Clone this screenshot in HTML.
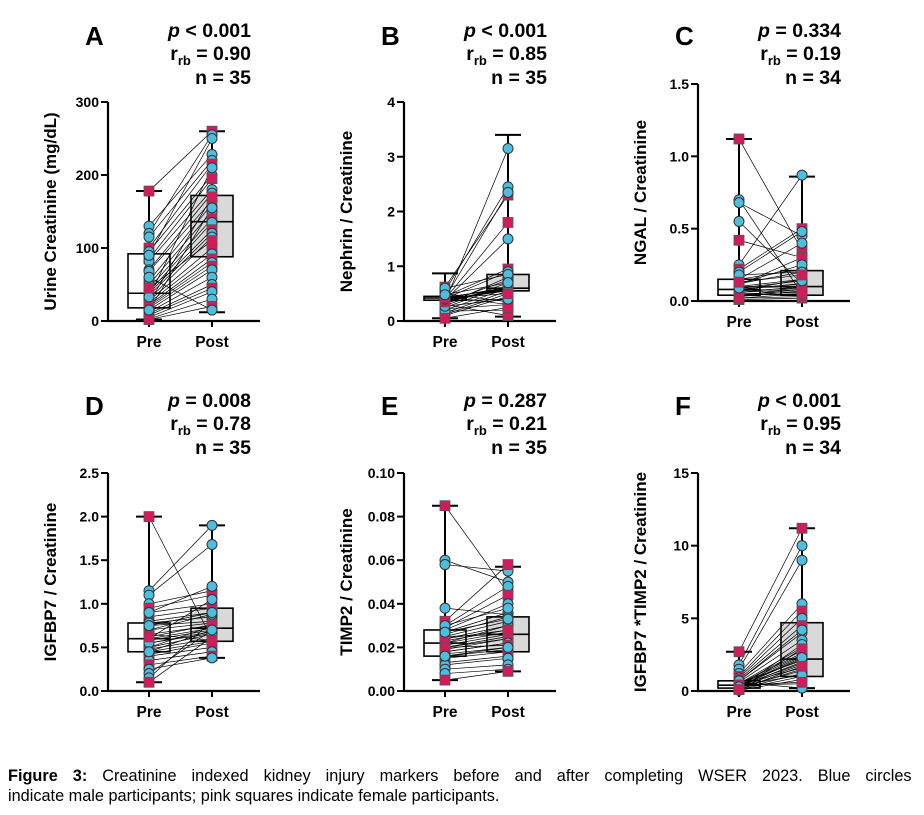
<!DOCTYPE html>
<html><head><meta charset="utf-8"><style>
body{margin:0;background:#fff;width:924px;height:810px;overflow:hidden}
svg text{font-family:"Liberation Sans",Arial,sans-serif}
</style></head><body>
<svg id="fig" width="924" height="810" xmlns="http://www.w3.org/2000/svg">
<text x="8" y="781" font-size="16.3" word-spacing="10.5"><tspan font-weight="bold">Figure 3:</tspan> Creatinine indexed kidney injury markers before and after completing WSER 2023. Blue circles</text>
<text x="8" y="801" font-size="16.3">indicate male participants; pink squares indicate female participants.</text>
</svg>
<script>
const panelLetters=['A','B','C','D','E','F'];
const pLabels=['< 0.001','< 0.001','= 0.334','= 0.008','= 0.287','< 0.001'];
const rLabels=['0.90','0.85','0.19','0.78','0.21','0.95'];
const nLabels=['35','35','34','35','35','34'];
const yTitles=['Urine Creatinine (mg/dL)','Nephrin / Creatinine','NGAL / Creatinine','IGFBP7 / Creatinine','TIMP2 / Creatinine','IGFBP7 *TIMP2 / Creatinine'];
const yMax=[300,4,1.5,2.5,0.10,15];
const tickVals=[[0,100,200,300],[0,1,2,3,4],[0,0.5,1.0,1.5],[0,0.5,1.0,1.5,2.0,2.5],[0,0.02,0.04,0.06,0.08,0.10],[0,5,10,15]];
const tickLabels=[['0','100','200','300'],['0','1','2','3','4'],['0.0','0.5','1.0','1.5'],['0.0','0.5','1.0','1.5','2.0','2.5'],['0.00','0.02','0.04','0.06','0.08','0.10'],['0','5','10','15']];
// box stats: [min,q1,median,q3,max]
const preBox=[[2,18,38,92,178],[0.05,0.38,0.42,0.45,0.87],[0,0.04,0.08,0.15,1.12],[0.1,0.45,0.6,0.78,2.0],[0.005,0.016,0.022,0.028,0.085],[0,0.2,0.4,0.7,2.7]];
const postBox=[[12,88,136,172,260],[0.08,0.55,0.6,0.85,3.4],[0,0.04,0.1,0.21,0.86],[0.38,0.57,0.72,0.95,1.9],[0.009,0.018,0.026,0.034,0.057],[0.2,1.0,2.2,4.7,11.2]];
const sexes='fmmmfmfmmmfmfmfmmfmfmfmmmfmmfmmfmfm';
const preA=[178,130,120,115,100,95,85,82,70,68,55,50,45,40,38,35,30,28,25,22,20,18,15,12,10,8,5,3,2,60,90,25,33,45,15];
const postA=[260,228,255,220,215,200,195,180,175,165,160,150,140,135,125,120,115,100,92,85,80,75,70,60,50,45,40,30,20,15,250,170,210,110,155];
const preB=[0.62,0.55,0.35,0.42,0.4,0.38,0.45,0.3,0.28,0.25,0.2,0.15,0.12,0.1,0.42,0.44,0.4,0.36,0.5,0.22,0.18,0.3,0.33,0.41,0.43,0.39,0.37,0.45,0.05,0.6,0.27,0.35,0.4,0.42,0.48];
const postB=[2.3,2.45,3.15,2.35,1.8,1.5,0.95,0.8,0.7,0.65,0.6,0.55,0.5,0.45,0.62,0.58,0.56,0.4,0.35,0.3,0.2,0.1,0.75,0.9,0.6,0.57,0.61,0.3,0.25,0.85,0.4,0.6,0.55,0.5,0.7];
const preC=[1.12,0.7,0.68,0.55,0.42,0.25,0.22,0.2,0.15,0.12,0.1,0.09,0.08,0.07,0.06,0.05,0.04,0.03,0.02,0.01,0.15,0.11,0.1,0.08,0.07,0.05,0.04,0.03,0.02,0.12,0.18,0.06,0.09,0.13];
const postC=[0.35,0.05,0.45,0.12,0.3,0.87,0.5,0.48,0.4,0.2,0.15,0.1,0.12,0.09,0.08,0.06,0.05,0.1,0.03,0.02,0.22,0.3,0.1,0.12,0.15,0.04,0.08,0.07,0.05,0.25,0.2,0.1,0.14,0.18];
const preD=[2.0,1.15,1.1,1.0,0.95,0.9,0.85,0.8,0.78,0.75,0.7,0.65,0.6,0.58,0.55,0.5,0.48,0.45,0.42,0.4,0.35,0.3,0.25,0.2,0.15,0.1,0.6,0.7,0.5,0.9,0.55,0.65,0.75,0.62,0.45];
const postD=[0.6,1.9,1.68,1.15,1.1,1.0,0.95,0.9,0.85,0.8,0.78,0.75,0.72,0.7,0.68,0.65,0.6,0.57,0.55,0.5,0.45,0.4,0.38,0.7,0.8,0.62,1.05,0.88,0.74,1.2,0.66,0.58,0.9,0.76,0.7];
const preE=[0.085,0.06,0.058,0.038,0.032,0.03,0.029,0.028,0.027,0.026,0.025,0.024,0.023,0.022,0.021,0.02,0.019,0.018,0.017,0.016,0.015,0.013,0.012,0.01,0.008,0.005,0.022,0.025,0.02,0.03,0.018,0.024,0.027,0.02,0.016];
const postE=[0.045,0.05,0.055,0.035,0.058,0.048,0.044,0.04,0.036,0.034,0.032,0.03,0.028,0.027,0.026,0.025,0.024,0.022,0.02,0.019,0.018,0.016,0.015,0.012,0.01,0.009,0.03,0.026,0.024,0.038,0.022,0.028,0.033,0.021,0.02];
const preF=[2.7,1.8,1.5,1.2,1.0,0.9,0.8,0.7,0.6,0.5,0.45,0.4,0.35,0.3,0.25,0.2,0.15,0.1,0.05,0.4,0.6,0.3,0.5,0.35,0.2,0.45,0.55,0.25,0.15,0.7,0.38,0.42,0.28,0.1];
const postF=[11.2,10.0,9.0,6.0,5.5,5.0,4.5,4.0,3.5,3.0,2.8,2.5,2.2,2.0,1.8,1.5,1.2,1.0,0.8,0.5,0.2,2.4,2.6,1.9,3.2,1.6,2.1,1.4,2.9,4.2,1.1,0.6,2.3,1.7];
const preData=[preA,preB,preC,preD,preE,preF];
const postData=[postA,postB,postC,postD,postE,postF];

const geom=[[108,321,102,0],[404,321,102,0],[698,301,84,0],[108,691,473,370],[404,691,473,370],[698,691,473,370]];
const colOff=[0,296,590,0,296,590];
const NS='http://www.w3.org/2000/svg';
const svg=document.getElementById('fig');
function mk(tag,attrs,parent){const e=document.createElementNS(NS,tag);for(const k in attrs)e.setAttribute(k,attrs[k]);parent.appendChild(e);return e;}
const BLUE='#4dbde0',PINK='#d01c5c';
for(let p=0;p<6;p++){
  const [ax,yb,yt,dy]=geom[p];const ox=colOff[p];
  const g=mk('g',{},svg);
  
  
  const Y=v=>yb-(v/yMax[p])*(yb-yt);
  const xPre=ax+41,xPost=ax+104;
  const L=mk('text',{x:85+ox,y:45+dy,'font-size':26,'font-weight':'bold'},g);L.textContent=panelLetters[p];
  
  const s1=mk('text',{x:251+ox,y:37+dy,'font-size':19.5,'font-weight':'bold','text-anchor':'end'},g);
  s1.innerHTML='<tspan font-style="italic">p</tspan> '+pLabels[p].replace('<','&lt;');
  
  const s2=mk('text',{x:251+ox,y:60+dy,'font-size':19.5,'font-weight':'bold','text-anchor':'end'},g);
  s2.innerHTML='r<tspan font-size="13" dy="5">rb</tspan><tspan dy="-5"> = '+rLabels[p]+'</tspan>';
  
  const s3=mk('text',{x:251+ox,y:84+dy,'font-size':19.5,'font-weight':'bold','text-anchor':'end'},g);
  s3.textContent='n = '+nLabels[p];
  
  const ya=mk('line',{x1:ax,y1:yb,x2:ax,y2:yt,stroke:'#000','stroke-width':2.2},g);
  
  const xa=mk('line',{x1:ax-1,y1:yb,x2:ax+152,y2:yb,stroke:'#000','stroke-width':2.2},g);
  
  tickVals[p].forEach((v,i)=>{
    mk('line',{x1:ax-7,y1:Y(v),x2:ax,y2:Y(v),stroke:'#000','stroke-width':2},g);
    const t=mk('text',{x:ax-9,y:Y(v)+5,'font-size':14,'font-weight':'bold','text-anchor':'end'},g);
    t.textContent=tickLabels[p][i];
    
  });
  [[xPre,'Pre'],[xPost,'Post']].forEach(([x,l])=>{
    mk('line',{x1:x,y1:yb,x2:x,y2:yb+6,stroke:'#000','stroke-width':2},g);
    const t=mk('text',{x:x,y:yb+26,'font-size':15.5,'font-weight':'bold','text-anchor':'middle'},g);t.textContent=l;
    
  });
  const yc=(yb+yt)/2;
  const tt=mk('text',{x:ax-52,y:yc,'font-size':17,'font-weight':'bold','text-anchor':'middle',transform:`rotate(-90 ${ax-52} ${yc})`},g);
  tt.textContent=yTitles[p];
  
  [[xPre,preBox[p],'#fff'],[xPost,postBox[p],'#d9d9d9']].forEach(([x,b,f])=>{
    const bg=mk('g',{},g);
    
    mk('line',{x1:x,y1:Y(b[0]),x2:x,y2:Y(b[4]),stroke:'#000','stroke-width':2},bg);
    mk('line',{x1:x-13,y1:Y(b[0]),x2:x+13,y2:Y(b[0]),stroke:'#000','stroke-width':2},bg);
    mk('line',{x1:x-13,y1:Y(b[4]),x2:x+13,y2:Y(b[4]),stroke:'#000','stroke-width':2},bg);
    mk('rect',{x:x-21,y:Y(b[3]),width:42,height:Y(b[1])-Y(b[3]),fill:f,stroke:'#000','stroke-width':1.6},bg);
    mk('line',{x1:x-21,y1:Y(b[2]),x2:x+21,y2:Y(b[2]),stroke:'#000','stroke-width':1.6},bg);
  });
  const pre=preData[p],post=postData[p];
  pre.forEach((v,i)=>{
    const ln=mk('line',{x1:xPre,y1:Y(v),x2:xPost,y2:Y(post[i]),stroke:'#000','stroke-width':0.7},g);
    
  });
  [[xPre,pre],[xPost,post]].forEach(([x,arr])=>{
    arr.forEach((v,i)=>{
      let m;
      if(sexes[i]==='f'){m=mk('rect',{x:x-5,y:Y(v)-5,width:10,height:10,fill:PINK,stroke:'#555','stroke-width':0.8},g);
        }
      else{m=mk('circle',{cx:x,cy:Y(v),r:5,fill:BLUE,stroke:'#333','stroke-width':1},g);
        }
      
    });
  });
}
</script>
</body></html>
